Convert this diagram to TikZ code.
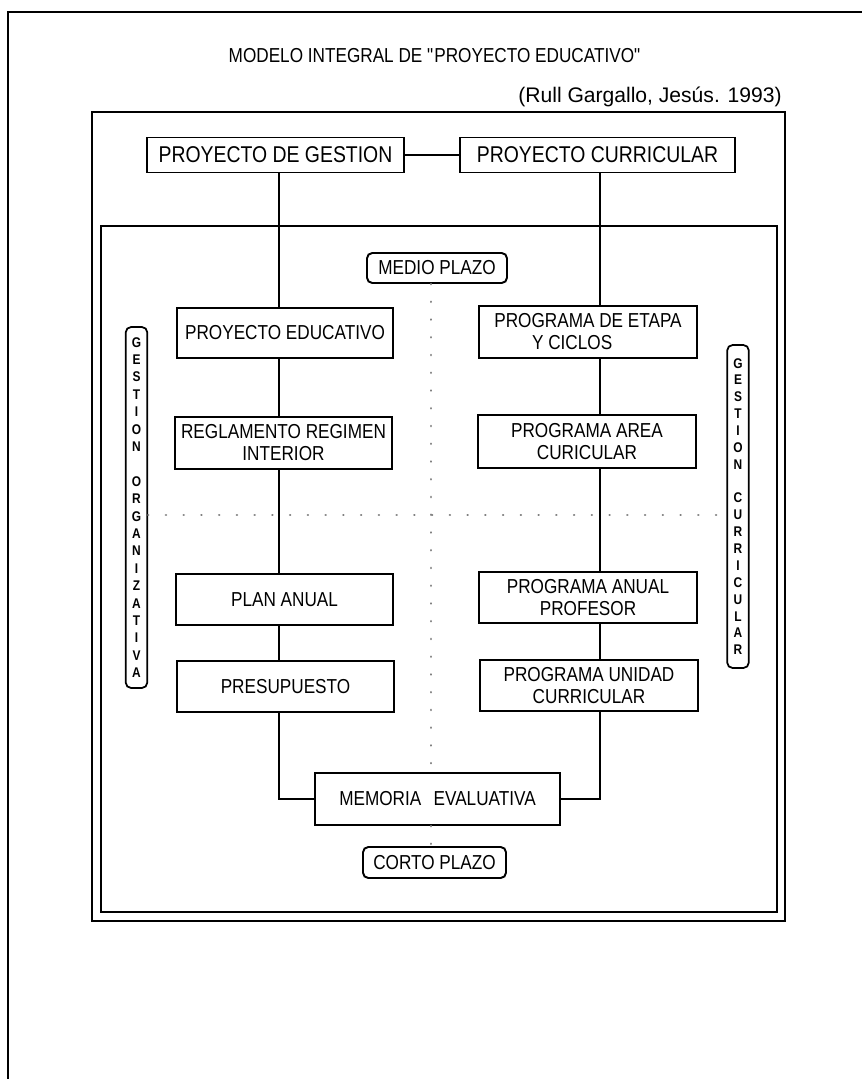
\documentclass[tikz,border=0pt]{standalone}
\usepackage{fontspec}
\usepackage{tikz}
\setmainfont[FakeStretch=0.85]{Liberation Sans}
\newfontfamily\citefont{Liberation Sans}
\newcommand\comillas{\XeTeXglyph\XeTeXcharglyph"22\relax}

\tikzset{
  caja/.style={draw, line width=1.1pt, align=center, inner sep=0pt,
    font=\fontsize{11.5}{12.5}\selectfont},
  cajagrande/.style={caja, font=\fontsize{13}{14}\selectfont},
  plazo/.style={caja, rounded corners=3pt},
  rotulo/.style={draw, line width=1pt, rounded corners=3pt, align=center,
    inner sep=0pt, minimum width=0.43cm},
  enlace/.style={line width=0.8pt},
  puntos/.style={gray, line width=1.4pt, dash pattern=on 0.1pt off 10pt, line cap=round}
}

\begin{document}
\begin{tikzpicture}[x=0.02cm,y=0.02cm]
\useasboundingbox (0,0) rectangle (862,-1079);

% marcos
\draw[line width=1.1pt] (8,-1079) -- (8,-12) -- (862,-12);
\draw[line width=1.4pt] (92,-112) rectangle (785,-921);
\draw[line width=0.8pt] (101,-226) rectangle (777,-912);

\node (titulo) at (435,-56) {\fontsize{11.5}{12.5}\selectfont MODELO INTEGRAL DE \comillas PROYECTO EDUCATIVO\comillas};
\node (cita) at (650,-97) {\citefont\fontsize{12}{13}\selectfont (Rull Gargallo, Jesús. 1993)};

% columnas
\coordinate (colL) at (279,0);
\coordinate (colR) at (600,0);
\coordinate (colM) at (431,0);
\coordinate (filaM) at (0,-515);

\node[cajagrande, minimum width=5.14cm, minimum height=0.7cm] (PG) at (275.5,-155) {PROYECTO DE GESTION};
\node[cajagrande, minimum width=5.5cm, minimum height=0.7cm] (PC) at (597.5,-155) {PROYECTO CURRICULAR};

\node[plazo, minimum width=2.8cm, minimum height=0.6cm] (medio) at (437,-268) {MEDIO PLAZO};

\node[caja, minimum width=4.32cm, minimum height=1cm] (PE) at (285,-333) {PROYECTO EDUCATIVO};
\node[caja, minimum width=4.34cm, minimum height=1.04cm] (RRI) at (283.5,-443) {REGLAMENTO REGIMEN\\INTERIOR};
\node[caja, minimum width=4.34cm, minimum height=1.02cm] (PA) at (284.5,-599.5) {PLAN ANUAL};
\node[caja, minimum width=4.34cm, minimum height=1.02cm] (PRES) at (285.5,-686.5) {PRESUPUESTO};

\node[caja, minimum width=4.36cm, minimum height=1.04cm] (PET) at (588,-332) {PROGRAMA DE ETAPA\\Y CICLOS\kern18pt};
\node[caja, minimum width=4.36cm, minimum height=1.06cm] (PAC) at (587,-441.5) {PROGRAMA AREA\\CURICULAR};
\node[caja, minimum width=4.36cm, minimum height=1.02cm] (PAP) at (588,-597.5) {PROGRAMA ANUAL\\PROFESOR};
\node[caja, minimum width=4.36cm, minimum height=1.02cm] (PUC) at (589,-685.5) {PROGRAMA UNIDAD\\CURRICULAR};

\node[caja, minimum width=4.9cm, minimum height=1.04cm] (MEM) at (437.5,-799) {MEMORIA\kern7pt EVALUATIVA};
\node[plazo, minimum width=2.86cm, minimum height=0.62cm] (corto) at (434.5,-862.5) {CORTO PLAZO};

\node[rotulo, minimum height=7.22cm, font=\fontsize{8}{9.9}\selectfont\bfseries] (GO) at (136.5,-507.5)
  {G\\E\\S\\T\\I\\O\\N\\\mbox{}\\O\\R\\G\\A\\N\\I\\Z\\A\\T\\I\\V\\A};
\node[rotulo, minimum height=6.46cm, font=\fontsize{8}{9.6}\selectfont\bfseries] (GC) at (738,-506.5)
  {G\\E\\S\\T\\I\\O\\N\\\mbox{}\\C\\U\\R\\R\\I\\C\\U\\L\\A\\R};

% lineas de plazo
\draw[puntos] (GO.east |- filaM) -- (GC.west |- filaM);
\draw[puntos] (medio.south -| colM) -- (MEM.north -| colM);
\draw[puntos] (MEM.south -| colM) -- (corto.north -| colM);

% enlaces
\draw[enlace] (PG.east) -- (PC.west);
\draw[enlace] (PG.south -| colL) -- (PE.north -| colL);
\draw[enlace] (PE.south -| colL) -- (RRI.north -| colL);
\draw[enlace] (RRI.south -| colL) -- (PA.north -| colL);
\draw[enlace] (PA.south -| colL) -- (PRES.north -| colL);
\draw[enlace] (PRES.south -| colL) |- (MEM.west);
\draw[enlace] (PC.south -| colR) -- (PET.north -| colR);
\draw[enlace] (PET.south -| colR) -- (PAC.north -| colR);
\draw[enlace] (PAC.south -| colR) -- (PAP.north -| colR);
\draw[enlace] (PAP.south -| colR) -- (PUC.north -| colR);
\draw[enlace] (PUC.south -| colR) |- (MEM.east);

\end{tikzpicture}
\end{document}
